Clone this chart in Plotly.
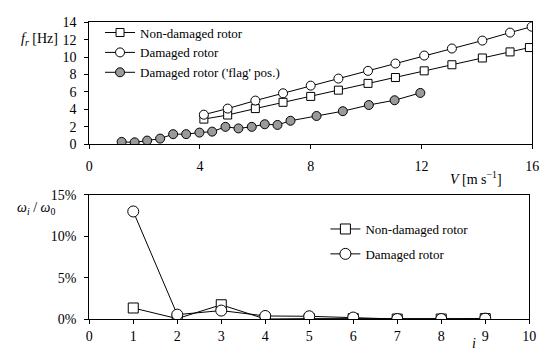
import plotly.graph_objects as go

# ---- top panel: natural frequency vs wind speed ----
v_nd = [4.14, 5.0, 6.0, 7.0, 8.0, 9.0, 10.07, 11.06, 12.1, 13.1, 14.2, 15.2, 15.9]
f_nd = [2.87, 3.34, 4.08, 4.8, 5.48, 6.2, 6.98, 7.65, 8.42, 9.12, 9.9, 10.6, 11.1]

v_d = [4.14, 5.0, 6.0, 7.0, 8.0, 9.0, 10.07, 11.06, 12.1, 13.1, 14.2, 15.2, 15.98]
f_d = [3.38, 4.08, 5.0, 5.84, 6.72, 7.53, 8.42, 9.26, 10.18, 10.99, 11.9, 12.82, 13.5]

v_flag = [1.17, 1.64, 2.09, 2.56, 3.03, 3.5, 3.98, 4.44, 4.92, 5.39, 5.87, 6.34, 6.8,
          7.27, 8.21, 9.16, 10.1, 11.03, 11.96]
f_flag = [0.25, 0.2, 0.4, 0.63, 1.14, 1.14, 1.32, 1.43, 1.98, 1.8, 1.98, 2.28, 2.2,
          2.68, 3.23, 3.78, 4.49, 5.04, 5.88]

# ---- bottom panel: frequency ratio vs mode index ----
mode_i = [1, 2, 3, 4, 5, 6, 7, 8, 9]
ratio_nd = [0.0138, 0.001, 0.0177, 0.0005, 0.001, 0.001, 0.0005, 0.0005, 0.001]
ratio_d = [0.130, 0.0058, 0.0107, 0.0042, 0.0038, 0.0023, 0.0005, 0.0005, 0.001]

W, H = 548, 361
FONT = "Liberation Serif"


def px_x(p):
    return p / W


def px_y(p):
    return 1 - p / H


fig = go.Figure()

line = dict(color="black", width=1)
fig.add_trace(go.Scatter(
    x=v_nd, y=f_nd, mode="lines+markers", name="Non-damaged rotor",
    line=line, marker=dict(symbol="square", size=8, color="white",
                           line=dict(color="black", width=1)),
    xaxis="x", yaxis="y", legend="legend"))
fig.add_trace(go.Scatter(
    x=v_d, y=f_d, mode="lines+markers", name="Damaged rotor",
    line=line, marker=dict(symbol="circle", size=9, color="white",
                           line=dict(color="black", width=1)),
    xaxis="x", yaxis="y", legend="legend"))
fig.add_trace(go.Scatter(
    x=v_flag, y=f_flag, mode="lines+markers", name="Damaged rotor ('flag' pos.)",
    line=line, marker=dict(symbol="circle", size=9, color="#9a9a9a",
                           line=dict(color="black", width=1)),
    xaxis="x", yaxis="y", legend="legend"))

fig.add_trace(go.Scatter(
    x=mode_i, y=ratio_nd, mode="lines+markers", name="Non-damaged rotor",
    line=line, marker=dict(symbol="square", size=10, color="white",
                           line=dict(color="black", width=1)),
    xaxis="x2", yaxis="y2", legend="legend2", legendgroup="g1"))
fig.add_trace(go.Scatter(
    x=mode_i, y=ratio_d, mode="lines+markers", name="Damaged rotor",
    line=line, marker=dict(symbol="circle", size=11, color="white",
                           line=dict(color="black", width=1)),
    xaxis="x2", yaxis="y2", legend="legend2", legendgroup="g2"))

axis_common = dict(showline=True, linecolor="black", linewidth=1, mirror=True,
                   showgrid=False, zeroline=False, ticks="outside", ticklen=4,
                   tickcolor="black", tickfont=dict(family=FONT, size=14, color="black"))


def label(text, x, y, yanchor="middle"):
    return dict(text=text, x=px_x(x), y=px_y(y), xref="paper", yref="paper",
                xanchor="center", yanchor=yanchor, showarrow=False,
                font=dict(family=FONT, size=14, color="black"))


fig.update_layout(
    width=W, height=H,
    margin=dict(l=0, r=0, t=0, b=0),
    plot_bgcolor="white", paper_bgcolor="white",
    font=dict(family=FONT, size=14, color="black"),
    xaxis=dict(domain=[px_x(87), px_x(539)], range=[0, 16], dtick=4,
               anchor="y", ticklabelstandoff=5, **axis_common),
    yaxis=dict(domain=[px_y(143), px_y(16)], range=[0, 14], dtick=2,
               anchor="x", ticklabelstandoff=5, **axis_common),
    xaxis2=dict(domain=[px_x(87), px_x(536)], range=[0, 10], dtick=1,
                anchor="y2", **axis_common),
    yaxis2=dict(domain=[px_y(326), px_y(196)], range=[0, 0.15], dtick=0.05,
                tickformat=".0%", anchor="x2", ticklabelstandoff=5, **axis_common),
    legend=dict(x=px_x(98), y=px_y(11), xanchor="left", yanchor="top",
                bgcolor="rgba(0,0,0,0)", itemwidth=30,
                font=dict(family=FONT, size=13, color="black")),
    legend2=dict(x=px_x(328), y=px_y(216), xanchor="left", yanchor="top",
                 bgcolor="rgba(0,0,0,0)", itemwidth=30, tracegroupgap=5,
                 font=dict(family=FONT, size=13, color="black")),
    annotations=[
        label("<i>f</i><sub><i>r</i></sub> [Hz]", 36, 34),
        label("<i>V</i> [m s<sup>\u22121</sup>]", 482, 178),
        label("<i>\u03c9</i><sub><i>i</i></sub> / <i>\u03c9</i><sub>0</sub>", 33, 210),
        label("<i>i</i>", 480, 361, yanchor="bottom"),
    ],
)

fig.write_html("out.html")
